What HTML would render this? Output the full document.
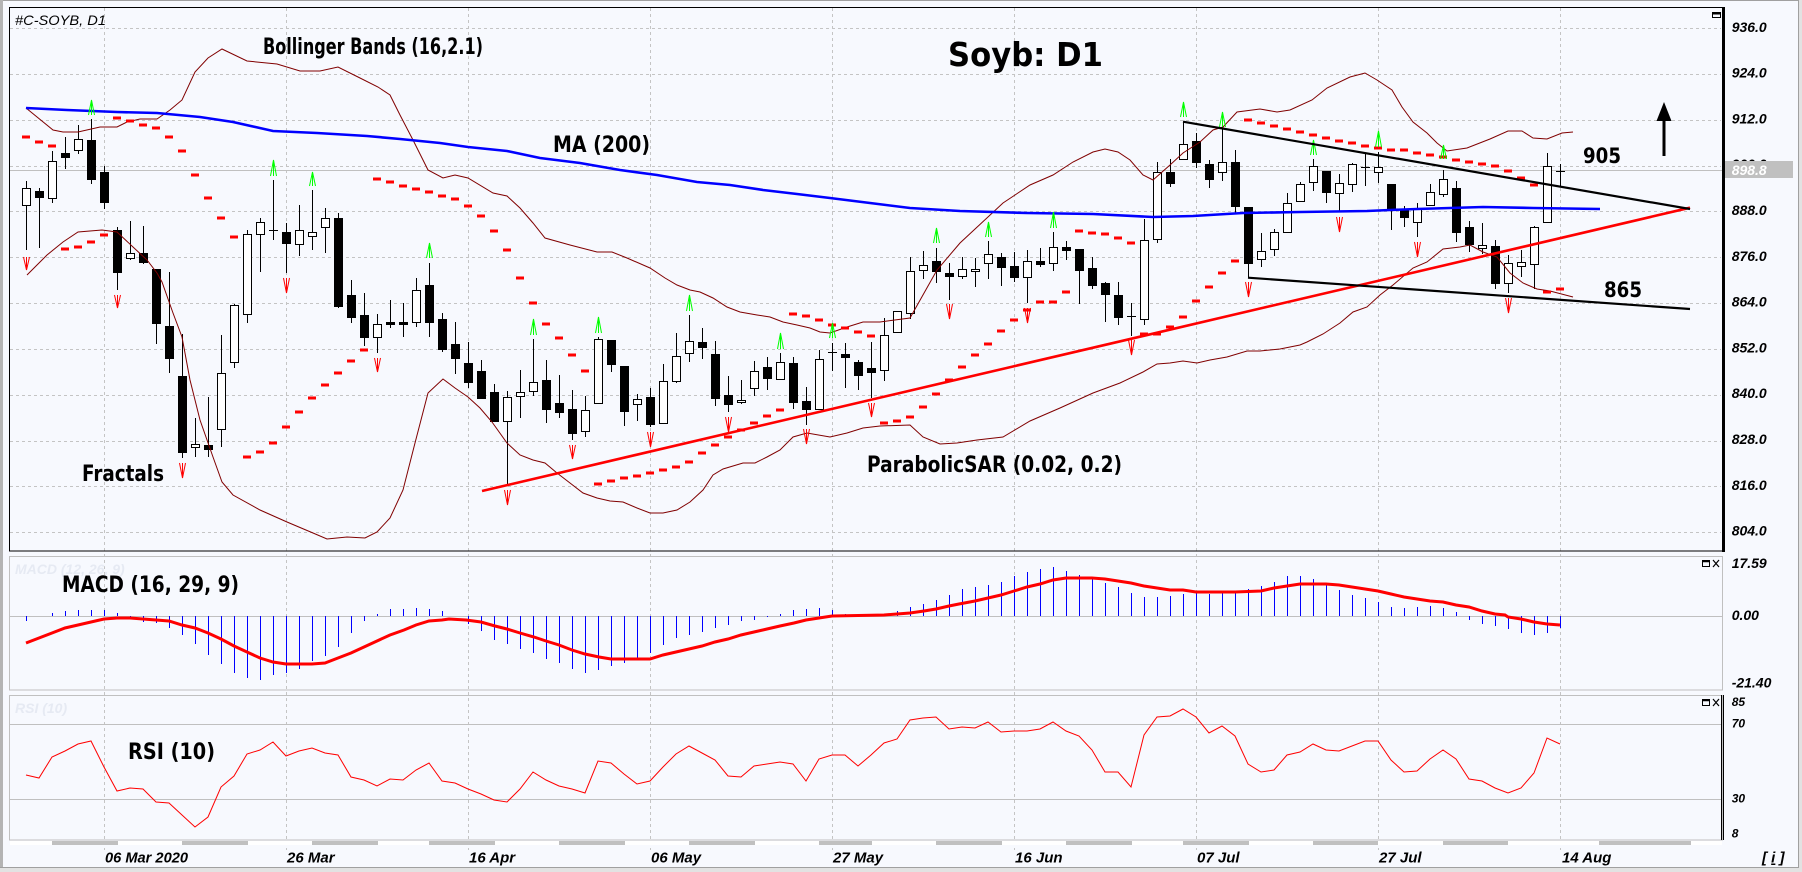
<!DOCTYPE html>
<html><head><meta charset="utf-8">
<style>html,body{margin:0;padding:0;background:#f7f9fe;}svg{display:block}</style>
</head><body>
<svg width="1802" height="872" viewBox="0 0 1802 872" xmlns="http://www.w3.org/2000/svg">
<rect x="0" y="0" width="1802" height="872" fill="#f7f9fe"/>
<!-- window frame -->
<rect x="0" y="0" width="1802" height="1" fill="#a0a0a0"/>
<rect x="0" y="0" width="3" height="872" fill="#b4b4b4"/>
<line x1="1798.5" y1="0" x2="1798.5" y2="868" stroke="#a0a0a0"/>
<rect x="1799" y="0" width="3" height="872" fill="#e2e2e2"/>
<line x1="0" y1="867.5" x2="1799" y2="867.5" stroke="#a0a0a0"/>
<rect x="0" y="868" width="1802" height="4" fill="#e2e2e2"/>

<!-- grid -->
<g stroke="#c4c4c4" stroke-dasharray="3 3" fill="none" shape-rendering="crispEdges">
<path d="M10 28.5H1721M10 74.5H1721M10 120.5H1721M10 166.5H1721M10 211.5H1721M10 257.5H1721M10 303.5H1721M10 349.5H1721M10 395.5H1721M10 441.5H1721M10 486.5H1721M10 532.5H1721"/>
<path d="M104.5 8V850M286.5 8V850M468.5 8V850M650.5 8V850M832.5 8V850M1014.5 8V850M1196.5 8V850M1378.5 8V850M1560.5 8V850"/>
</g>
<g stroke="#c0c0c0" fill="none" shape-rendering="crispEdges">
<path d="M10 170.5H1724"/>
<path d="M10 616.5H1722M10 724.5H1722M10 799.5H1722"/>
</g>

<!-- panels -->
<rect x="9.5" y="7.5" width="1713" height="543.5" fill="none" stroke="#000" shape-rendering="crispEdges"/>
<line x1="1723.5" y1="7" x2="1723.5" y2="552" stroke="#000" stroke-width="3"/>
<rect x="9.5" y="556.5" width="1713" height="133.5" fill="none" stroke="#c0c0c0" shape-rendering="crispEdges"/>
<rect x="9.5" y="695.5" width="1713" height="144.5" fill="none" stroke="#c0c0c0" shape-rendering="crispEdges"/>
<path d="M1721.5 695V840M1723.5 695V840" stroke="#000" fill="none" shape-rendering="crispEdges"/>

<!-- scrollbar -->
<rect x="10" y="841" width="1712" height="4" fill="#ffffff"/>
<path d="M52 843H118M182 843H248M312 843H378M429 843H495M559 843H625M689 843H755M819 843H872M936 843H1002M1066 843H1132M1183 843H1249M1313 843H1378M1443 843H1508M1599 843H1691" stroke="#c0c0c0" stroke-width="4"/>

<!-- candles: wicks -->
<path fill="none" stroke="#000" stroke-width="1" shape-rendering="crispEdges" d="M26.5 181V250M39.5 188V248M52.5 151V203M65.5 137V169M78.5 125V154M91.5 119V184M104.5 166V209M117.5 227V290M130.5 221V260M143.5 226V264M156.5 269V344M169.5 272V373M182.5 334V458M195.5 418V457M208.5 397V457M221.5 335V447M234.5 304V368M247.5 230V323M260.5 218V272M273.5 180V240M286.5 223V273M299.5 205V256M312.5 190V250M325.5 208V253M338.5 213V308M351.5 280V323M364.5 293V346M377.5 314V353M390.5 300V328M403.5 303V337M416.5 278V327M429.5 263V337M442.5 313V352M455.5 322V374M468.5 342V388M481.5 360V398M494.5 384V422M507.5 391V485M520.5 370V418M533.5 339V396M546.5 360V423M559.5 375V418M572.5 390V440M585.5 396V437M598.5 337V404M611.5 340V372M624.5 366V426M637.5 394V421M650.5 388V427M663.5 364V423M676.5 333V383M689.5 315V362M702.5 328V359M715.5 341V406M728.5 376V412M741.5 380V404M754.5 361V396M767.5 357V390M780.5 353V379M793.5 357V409M806.5 387V425M819.5 350V409M832.5 343V371M845.5 343V388M858.5 360V390M871.5 342V398M884.5 318V381M897.5 311V333M910.5 257V319M923.5 251V279M936.5 248V283M949.5 263V300M962.5 257V279M975.5 258V287M988.5 241V279M1001.5 253V286M1014.5 252V282M1027.5 250V303M1040.5 248V267M1053.5 232V271M1066.5 241V260M1079.5 249V304M1092.5 257V289M1105.5 282V322M1118.5 282V325M1131.5 303V336M1144.5 219V325M1157.5 162V243M1170.5 159V187M1183.5 122V159M1196.5 133V168M1209.5 160V188M1222.5 129V181M1235.5 150V213M1248.5 207V278M1261.5 233V267M1274.5 229V256M1287.5 193V232M1300.5 182V202M1313.5 159V191M1326.5 171V203M1339.5 174V212M1352.5 163V192M1365.5 154V186M1378.5 152V183M1391.5 184V230M1404.5 206V227M1417.5 203V237M1430.5 184V205M1443.5 170V197M1456.5 181V242M1469.5 221V252M1482.5 223V254M1495.5 240V289M1508.5 255V293M1521.5 250V277M1534.5 226V289M1547.5 153V222M1560.5 164V187M269 230.5h9M828 352.5h9M1127 316.5h9M1361 167.5h9M1556 171.5h9"/>
<!-- up bodies -->
<path fill="#ffffff" stroke="#000" stroke-width="1" shape-rendering="crispEdges" d="M22.5 188.5h8v17h-8zM48.5 161.5h8v37h-8zM74.5 139.5h8v11h-8zM126.5 253.5h8v5h-8zM191.5 444.5h8v3h-8zM217.5 373.5h8v56h-8zM230.5 305.5h8v57h-8zM243.5 234.5h8v80h-8zM256.5 222.5h8v12h-8zM295.5 230.5h8v14h-8zM308.5 232.5h8v4h-8zM321.5 218.5h8v9h-8zM373.5 324.5h8v13h-8zM412.5 290.5h8v32h-8zM503.5 397.5h8v24h-8zM516.5 392.5h8v4h-8zM529.5 382.5h8v9h-8zM581.5 410.5h8v21h-8zM594.5 339.5h8v64h-8zM633.5 399.5h8v5h-8zM659.5 381.5h8v42h-8zM672.5 356.5h8v25h-8zM685.5 341.5h8v12h-8zM737.5 400.5h8v2h-8zM750.5 371.5h8v17h-8zM776.5 362.5h8v17h-8zM815.5 359.5h8v50h-8zM880.5 335.5h8v35h-8zM893.5 311.5h8v21h-8zM906.5 271.5h8v42h-8zM919.5 265.5h8v5h-8zM958.5 269.5h8v7h-8zM971.5 269.5h8v2h-8zM984.5 254.5h8v9h-8zM1023.5 261.5h8v16h-8zM1049.5 247.5h8v16h-8zM1140.5 240.5h8v79h-8zM1153.5 172.5h8v67h-8zM1179.5 144.5h8v15h-8zM1218.5 162.5h8v10h-8zM1257.5 251.5h8v8h-8zM1270.5 232.5h8v17h-8zM1283.5 203.5h8v29h-8zM1296.5 184.5h8v17h-8zM1309.5 166.5h8v16h-8zM1335.5 183.5h8v10h-8zM1348.5 164.5h8v20h-8zM1374.5 167.5h8v5h-8zM1413.5 208.5h8v14h-8zM1426.5 192.5h8v13h-8zM1439.5 179.5h8v15h-8zM1478.5 245.5h8v3h-8zM1504.5 263.5h8v20h-8zM1517.5 262.5h8v4h-8zM1530.5 227.5h8v37h-8zM1543.5 166.5h8v56h-8z"/>
<!-- down bodies -->
<path fill="#000" stroke="#000" stroke-width="1" shape-rendering="crispEdges" d="M35.5 191.5h8v6h-8zM61.5 153.5h8v4h-8zM87.5 140.5h8v39h-8zM100.5 172.5h8v30h-8zM113.5 230.5h8v42h-8zM139.5 253.5h8v9h-8zM152.5 269.5h8v54h-8zM165.5 326.5h8v32h-8zM178.5 376.5h8v76h-8zM204.5 445.5h8v4h-8zM282.5 232.5h8v11h-8zM334.5 218.5h8v88h-8zM347.5 295.5h8v22h-8zM360.5 315.5h8v22h-8zM386.5 322.5h8v2h-8zM399.5 322.5h8v2h-8zM425.5 285.5h8v37h-8zM438.5 319.5h8v30h-8zM451.5 344.5h8v14h-8zM464.5 363.5h8v19h-8zM477.5 371.5h8v27h-8zM490.5 392.5h8v29h-8zM542.5 380.5h8v29h-8zM555.5 403.5h8v9h-8zM568.5 409.5h8v24h-8zM607.5 340.5h8v24h-8zM620.5 366.5h8v45h-8zM646.5 397.5h8v27h-8zM698.5 342.5h8v5h-8zM711.5 354.5h8v44h-8zM724.5 395.5h8v9h-8zM763.5 367.5h8v11h-8zM789.5 363.5h8v39h-8zM802.5 401.5h8v8h-8zM841.5 354.5h8v3h-8zM854.5 362.5h8v13h-8zM867.5 368.5h8v4h-8zM932.5 261.5h8v10h-8zM945.5 273.5h8v3h-8zM997.5 257.5h8v10h-8zM1010.5 266.5h8v11h-8zM1036.5 261.5h8v3h-8zM1062.5 247.5h8v3h-8zM1075.5 249.5h8v21h-8zM1088.5 268.5h8v17h-8zM1101.5 283.5h8v11h-8zM1114.5 295.5h8v22h-8zM1166.5 172.5h8v11h-8zM1192.5 141.5h8v21h-8zM1205.5 164.5h8v15h-8zM1231.5 162.5h8v44h-8zM1244.5 207.5h8v56h-8zM1322.5 171.5h8v21h-8zM1387.5 184.5h8v26h-8zM1400.5 210.5h8v7h-8zM1452.5 188.5h8v44h-8zM1465.5 227.5h8v17h-8zM1491.5 246.5h8v37h-8z"/>

<!-- Bollinger bands -->
<g fill="none" stroke="#800000" stroke-width="1">
<polyline points="26,108 53,130 63,132 78,132 100,127 117,127 127,122 140,119 157,119 170,110 182,100 195,72 208,58 222,49 247,61 277,64 300,71 320,71 338,67 360,78 378,87 390,95 400,115 413,140 428,170 443,178 455,175 468,178 493,193 507,196 520,208 533,223 545,238 570,245 597,252 612,252 627,258 650,268 665,278 677,285 690,290 700,292 713,298 727,307 740,312 757,315 770,317 783,322 797,325 810,328 820,332 830,333 847,327 863,322 880,322 910,318 937,270 960,243 1003,203 1030,185 1053,175 1073,162 1093,152 1105,149 1118,152 1130,160 1143,175 1153,180 1170,165 1183,153 1200,142 1213,130 1223,127 1237,112 1260,109 1277,112 1290,110 1312,100 1327,88 1350,77 1365,73 1377,80 1392,90 1402,107 1413,122 1427,133 1437,143 1447,151 1467,148 1490,139 1508,131 1522,131 1533,138 1547,139 1562,133 1573,132"/>
<polyline points="27,275 47,255 63,242 78,232 102,230 117,232 133,247 147,260 157,273 162,282 173,313 182,337 190,380 200,420 213,457 222,482 233,495 260,510 287,522 313,533 327,539 347,537 365,538 377,532 390,518 403,490 415,443 428,393 443,379 455,388 468,397 480,408 492,422 507,443 520,455 533,460 545,463 557,473 570,483 583,493 597,498 610,501 623,502 637,508 650,513 663,513 677,510 690,502 703,490 713,475 723,469 733,466 743,463 755,463 767,457 780,450 793,437 807,433 830,437 847,433 863,428 880,426 910,425 923,437 940,444 957,443 977,440 1003,437 1030,421 1060,408 1093,393 1120,383 1143,372 1157,364 1170,363 1183,361 1197,363 1210,360 1227,357 1247,351 1260,351 1280,349 1300,345 1307,342 1323,334 1340,323 1353,312 1367,307 1380,295 1393,285 1413,268 1427,262 1443,249 1460,247 1470,245 1483,252 1497,257 1510,273 1523,283 1537,289 1550,291 1573,297"/>
</g>
<!-- MA 200 -->
<polyline fill="none" stroke="#0000ff" stroke-width="2.6" points="26,108 67,110 117,112 157,113 200,117 233,122 273,131 317,133 367,136 400,139 440,143 468,147 507,151 540,158 580,163 620,170 657,175 697,182 730,185 763,190 797,194 830,198 870,203 910,208 960,211 1027,213 1093,214 1153,217 1193,216 1243,213 1300,212 1367,211 1390,210 1417,209 1483,207 1533,208 1600,209"/>

<!-- Parabolic SAR -->
<path fill="none" stroke="#ff0000" stroke-width="3" d="M22 137h8M35 142h8M48 146h8M61 249h8M74 247h8M87 242h8M100 235h8M113 118h8M126 121h8M139 125h8M152 128h8M165 137h8M178 151h8M191 175h8M204 198h8M217 218h8M230 237h8M243 457h8M256 452h8M269 443h8M282 427h8M295 412h8M308 398h8M321 385h8M334 373h8M347 361h8M360 350h8M373 179h8M386 182h8M399 186h8M412 189h8M425 192h8M438 196h8M451 199h8M464 206h8M477 216h8M490 231h8M503 250h8M516 278h8M529 303h8M542 324h8M555 338h8M568 355h8M581 371h8M594 484h8M607 481h8M620 478h8M633 476h8M646 473h8M659 470h8M672 467h8M685 462h8M698 453h8M711 445h8M724 437h8M737 430h8M750 423h8M763 416h8M776 410h8M789 314h8M802 316h8M815 320h8M828 325h8M841 328h8M854 332h8M867 336h8M880 423h8M893 421h8M906 417h8M919 407h8M932 394h8M945 380h8M958 367h8M971 355h8M984 344h8M997 331h8M1010 320h8M1023 310h8M1036 302h8M1049 302h8M1062 292h8M1075 231h8M1088 233h8M1101 234h8M1114 238h8M1127 243h8M1140 334h8M1153 334h8M1166 327h8M1179 317h8M1192 301h8M1205 287h8M1218 273h8M1231 261h8M1244 120h8M1257 123h8M1270 126h8M1283 129h8M1296 132h8M1309 135h8M1322 138h8M1335 141h8M1348 143h8M1361 146h8M1374 148h8M1387 150h8M1400 150h8M1413 153h8M1426 155h8M1439 157h8M1452 160h8M1465 162h8M1478 164h8M1491 166h8M1504 171h8M1517 178h8M1530 185h8M1543 292h8M1556 289h8"/>

<!-- Fractals up -->
<path fill="none" stroke="#00ff00" stroke-width="1" d="M91.5 100V115M88.5 115L91.5 100L94.5 115M273.5 160V176M270.5 176L273.5 160L276.5 176M312.5 172V186M309.5 186L312.5 172L315.5 186M429.5 243V258M426.5 258L429.5 243L432.5 258M533.5 319V335M530.5 335L533.5 319L536.5 335M598.5 317V333M595.5 333L598.5 317L601.5 333M689.5 295V311M686.5 311L689.5 295L692.5 311M780.5 333V349M777.5 349L780.5 333L783.5 349M832.5 323V338M829.5 338L832.5 323L835.5 338M936.5 228V243M933.5 243L936.5 228L939.5 243M988.5 222V237M985.5 237L988.5 222L991.5 237M1053.5 212V228M1050.5 228L1053.5 212L1056.5 228M1183.5 102V117M1180.5 117L1183.5 102L1186.5 117M1222.5 112V127M1219.5 127L1222.5 112L1225.5 127M1313.5 140V155M1310.5 155L1313.5 140L1316.5 155M1378.5 131V147M1375.5 147L1378.5 131L1381.5 147M1443.5 145V159M1440.5 159L1443.5 145L1446.5 159"/>
<!-- Fractals down -->
<path fill="none" stroke="#ff0000" stroke-width="1" d="M26.5 257V270M23.5 257L26.5 270L29.5 257M117.5 295V308M114.5 295L117.5 308L120.5 295M182.5 463V478M179.5 463L182.5 478L185.5 463M286.5 278V293M283.5 278L286.5 293L289.5 278M377.5 358V372M374.5 358L377.5 372L380.5 358M507.5 490V505M504.5 490L507.5 505L510.5 490M572.5 445V459M569.5 445L572.5 459L575.5 445M650.5 432V447M647.5 432L650.5 447L653.5 432M728.5 417V432M725.5 417L728.5 432L731.5 417M806.5 429V444M803.5 429L806.5 444L809.5 429M871.5 403V417M868.5 403L871.5 417L874.5 403M949.5 304V319M946.5 304L949.5 319L952.5 304M1027.5 308V323M1024.5 308L1027.5 323L1030.5 308M1131.5 340V355M1128.5 340L1131.5 355L1134.5 340M1248.5 282V297M1245.5 282L1248.5 297L1251.5 282M1339.5 217V232M1336.5 217L1339.5 232L1342.5 217M1417.5 242V257M1414.5 242L1417.5 257L1420.5 242M1508.5 298V313M1505.5 298L1508.5 313L1511.5 298"/>

<!-- trend lines -->
<line x1="482" y1="491" x2="1690" y2="207.7" stroke="#ff0000" stroke-width="2.6"/>
<line x1="1183" y1="121.7" x2="1690" y2="209" stroke="#000" stroke-width="2.2"/>
<line x1="1248" y1="277.7" x2="1690" y2="309" stroke="#000" stroke-width="2.2"/>

<!-- arrow -->
<line x1="1664" y1="156" x2="1664" y2="118" stroke="#000" stroke-width="3"/>
<polygon points="1656.5,121 1671.5,121 1664,102" fill="#000"/>

<!-- MACD -->
<path fill="none" stroke="#0000ff" stroke-width="1" shape-rendering="crispEdges" d="M26.5 616V621M52.5 616V613M65.5 616V611M78.5 616V610M91.5 616V610M104.5 616V610M117.5 616V613M130.5 616V617M143.5 616V622M156.5 616V623M169.5 616V628M182.5 616V635M195.5 616V644M208.5 616V655M221.5 616V664M234.5 616V673M247.5 616V678M260.5 616V680M273.5 616V675M286.5 616V673M299.5 616V669M312.5 616V661M325.5 616V656M338.5 616V647M351.5 616V633M364.5 616V621M377.5 616V614M390.5 616V609M403.5 616V609M416.5 616V608M429.5 616V609M442.5 616V611M468.5 616V624M481.5 616V631M494.5 616V640M507.5 616V644M520.5 616V649M533.5 616V653M546.5 616V659M559.5 616V663M572.5 616V669M585.5 616V673M598.5 616V670M611.5 616V666M624.5 616V663M637.5 616V659M650.5 616V653M663.5 616V645M676.5 616V638M689.5 616V635M702.5 616V632M715.5 616V628M728.5 616V625M741.5 616V621M754.5 616V620M767.5 616V617M780.5 616V614M793.5 616V610M806.5 616V609M819.5 616V608M832.5 616V610M845.5 616V614M897.5 616V611M910.5 616V607M923.5 616V604M936.5 616V600M949.5 616V595M962.5 616V589M975.5 616V587M988.5 616V585M1001.5 616V582M1014.5 616V576M1027.5 616V572M1040.5 616V569M1053.5 616V567M1066.5 616V571M1079.5 616V575M1092.5 616V579M1105.5 616V583M1118.5 616V587M1131.5 616V593M1144.5 616V597M1157.5 616V597M1170.5 616V596M1183.5 616V594M1196.5 616V592M1209.5 616V594M1222.5 616V593M1235.5 616V591M1248.5 616V589M1261.5 616V586M1274.5 616V582M1287.5 616V576M1300.5 616V576M1313.5 616V579M1326.5 616V583M1339.5 616V590M1352.5 616V595M1365.5 616V598M1378.5 616V602M1391.5 616V607M1404.5 616V608M1417.5 616V607M1430.5 616V606M1443.5 616V608M1456.5 616V612M1469.5 616V620M1482.5 616V624M1495.5 616V626M1508.5 616V629M1521.5 616V633M1534.5 616V635M1547.5 616V633M1560.5 616V628"/>
<polyline fill="none" stroke="#ff0000" stroke-width="3" points="26,643 39,638 52,633 65,628 78,625 91,622 104,619 117,618 130,618 143,619 156,620 169,621 182,625 195,628 208,633 221,639 234,646 247,652 260,658 273,662 286,664 299,664 312,664 325,663 338,658 351,653 364,647 377,641 390,635 404,630 416,625 429,621 442,620 449,619 466,620 481,622 495,626 507,629 520,633 534,637 546,641 559,645 572,650 585,654 599,657 611,659 650,659 663,655 676,652 689,649 702,646 715,642 728,639 741,635 754,632 767,629 780,626 794,623 806,620 819,618 832,616 884,615 897,614 910,613 924,611 936,609 949,606 959,604 975,601 988,598 1001,595 1014,591 1027,587 1040,584 1053,580 1066,578 1092,578 1105,579 1118,581 1131,583 1144,586 1157,588 1170,590 1183,590 1196,592 1235,592 1261,591 1274,588 1287,586 1300,584 1313,584 1326,584 1339,585 1352,587 1365,589 1378,591 1391,594 1404,597 1417,599 1430,601 1443,602 1456,605 1469,607 1482,611 1495,614 1505,615 1508,617 1521,619 1534,622 1547,624 1560,625"/>

<!-- RSI -->
<polyline fill="none" stroke="#ff0000" stroke-width="1" points="26,775 39,778 52,757 65,751 78,744 91,741 104,767 117,791 130,788 143,789 156,802 169,803 182,815 195,827 208,817 221,787 234,776 247,754 260,750 273,742 286,756 299,751 312,748 325,753 338,755 351,777 364,780 377,786 390,779 403,780 416,770 429,763 442,781 455,783 468,789 481,794 494,800 507,802 520,789 533,772 546,780 559,786 572,789 585,793 598,761 611,763 624,774 637,784 650,781 663,767 676,754 689,746 702,753 715,760 728,776 741,777 754,766 767,764 780,762 793,764 806,781 819,759 832,755 845,755 858,766 871,755 884,743 897,739 910,720 923,718 936,717 949,729 962,727 975,728 988,722 1001,732 1014,731 1027,731 1040,729 1053,722 1066,731 1079,736 1092,750 1105,772 1118,772 1131,787 1144,735 1157,717 1170,716 1183,709 1196,717 1209,733 1222,726 1235,736 1248,764 1261,772 1274,770 1287,755 1300,752 1313,744 1326,750 1339,751 1352,746 1365,741 1378,741 1391,760 1404,772 1417,771 1430,759 1443,750 1456,759 1469,779 1482,781 1495,788 1508,793 1521,788 1534,773 1547,738 1560,744"/>

<!-- panel icons -->
<rect x="1712.5" y="12.5" width="8" height="5" fill="none" stroke="#000"/>
<line x1="1712" y1="13.5" x2="1721" y2="13.5" stroke="#000" stroke-width="2"/>
<rect x="1702.5" y="560.5" width="7" height="6" fill="none" stroke="#000"/>
<line x1="1702" y1="561.5" x2="1710" y2="561.5" stroke="#000" stroke-width="1.5"/>
<path d="M1713 560L1719 567M1719 560L1713 567" stroke="#000" stroke-width="1.2"/>
<rect x="1702.5" y="699.5" width="7" height="6" fill="none" stroke="#000"/>
<line x1="1702" y1="700.5" x2="1710" y2="700.5" stroke="#000" stroke-width="1.5"/>
<path d="M1713 699L1719 706M1719 699L1713 706" stroke="#000" stroke-width="1.2"/>

<!-- texts -->
<g font-family="Liberation Sans, Arial, sans-serif" font-style="italic" fill="#000">
<text x="15" y="25" font-size="14" textLength="91" lengthAdjust="spacingAndGlyphs">#C-SOYB, D1</text>
<text x="15" y="574" font-size="14" font-weight="bold" fill="#e6eaf3">MACD (12, 26, 9)</text>
<text x="15" y="713" font-size="14" font-weight="bold" fill="#e6eaf3">RSI (10)</text>
</g>
<g font-family="Liberation Sans, Arial, sans-serif" font-style="italic" font-weight="bold" font-size="14" fill="#000">
<text x="1731.7" y="31.8">936.0</text>
<text x="1731.7" y="77.6">924.0</text>
<text x="1731.7" y="123.4">912.0</text>
<text x="1731.7" y="169.2">900.0</text>
<text x="1731.7" y="215">888.0</text>
<text x="1731.7" y="260.8">876.0</text>
<text x="1731.7" y="306.6">864.0</text>
<text x="1731.7" y="352.4">852.0</text>
<text x="1731.7" y="398.2">840.0</text>
<text x="1731.7" y="444">828.0</text>
<text x="1731.7" y="489.8">816.0</text>
<text x="1731.7" y="535.6">804.0</text>
<text x="1731.7" y="568">17.59</text>
<text x="1731.7" y="620">0.00</text>
<text x="1731.7" y="687.7">-21.40</text>
<text x="1731.7" y="706" font-size="12">85</text>
<text x="1731.7" y="727.7" font-size="12">70</text>
<text x="1731.7" y="802.7" font-size="12">30</text>
<text x="1731.7" y="837.3" font-size="12">8</text>
</g>
<rect x="1725" y="161" width="68" height="17" fill="#c0c0c0"/>
<text x="1731.7" y="175" font-family="Liberation Sans, Arial, sans-serif" font-style="italic" font-weight="bold" font-size="14" fill="#ffffff">898.8</text>

<g font-family="Liberation Sans, Arial, sans-serif" font-style="italic" font-weight="bold" font-size="15" fill="#000">
<text x="105" y="862.5" textLength="83" lengthAdjust="spacingAndGlyphs">06 Mar 2020</text>
<text x="287" y="862.5">26 Mar</text>
<text x="469" y="862.5">16 Apr</text>
<text x="651" y="862.5">06 May</text>
<text x="833" y="862.5">27 May</text>
<text x="1015" y="862.5">16 Jun</text>
<text x="1197" y="862.5">07 Jul</text>
<text x="1379" y="862.5">27 Jul</text>
<text x="1562" y="862.5">14 Aug</text>
<text x="1762" y="862.5">[ <tspan text-decoration="underline">i</tspan> ]</text>
</g>

<g font-family="DejaVu Sans, Liberation Sans, sans-serif" font-weight="bold" fill="#000">
<text x="263" y="54" font-size="22" textLength="220" lengthAdjust="spacingAndGlyphs">Bollinger Bands (16,2.1)</text>
<text x="948" y="66" font-size="33" textLength="155" lengthAdjust="spacingAndGlyphs">Soyb: D1</text>
<text x="553" y="152" font-size="22" textLength="97" lengthAdjust="spacingAndGlyphs">MA (200)</text>
<text x="1583" y="163" font-size="21" textLength="38" lengthAdjust="spacingAndGlyphs">905</text>
<text x="1604" y="297" font-size="21" textLength="38" lengthAdjust="spacingAndGlyphs">865</text>
<text x="82" y="481" font-size="22" textLength="82" lengthAdjust="spacingAndGlyphs">Fractals</text>
<text x="867" y="472" font-size="22" textLength="255" lengthAdjust="spacingAndGlyphs">ParabolicSAR (0.02, 0.2)</text>
<text x="62" y="592" font-size="22" textLength="177" lengthAdjust="spacingAndGlyphs">MACD (16, 29, 9)</text>
<text x="128" y="759" font-size="22" textLength="87" lengthAdjust="spacingAndGlyphs">RSI (10)</text>
</g>
</svg>
</body></html>
